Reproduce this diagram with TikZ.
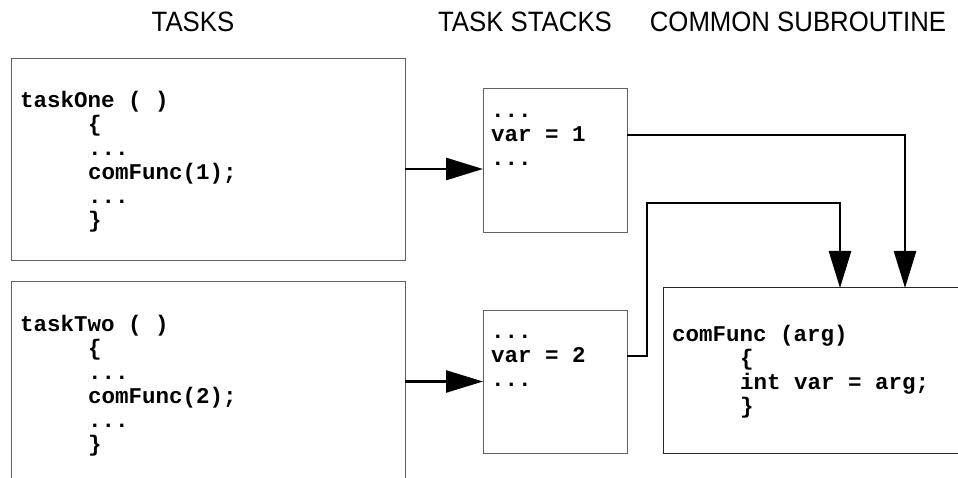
\documentclass[tikz,border=0pt]{standalone}
\usepackage{fontspec}
\setmainfont{Liberation Sans}
\newfontfamily\headfont{Liberation Sans}[FakeStretch=0.92]
\newfontfamily\codefont{Liberation Mono}
\usetikzlibrary{arrows.meta}
\begin{document}
\begin{tikzpicture}[x=1pt,y=-1pt,
  box/.style={draw=black!62, line width=1pt, anchor=north west, inner sep=0pt, outer sep=0pt},
  code/.style={anchor=base west, inner sep=0pt, font=\codefont\bfseries\fontsize{22.5}{24}\selectfont},
  head/.style={anchor=base, inner sep=0pt, font=\headfont\fontsize{28}{32}\selectfont},
  arr/.style={line width=2.7pt, -{Triangle[length=37pt,width=22pt]}}]
\useasboundingbox (0,0) rectangle (958,478);
\clip (0,0) rectangle (958,478);
\fill[white] (0,0) rectangle (958,478);

% headers
\node[head] (h1) at (193,32) {TASKS};
\node[head] (h2) at (525,32) {TASK STACKS};
\node[head] (h3) at (798,32) {COMMON SUBROUTINE};

% boxes
\node[box, minimum width=394pt, minimum height=202pt] (t1) at (11,59) {};
\node[box, minimum width=394pt, minimum height=230pt] (t2) at (11,282) {};
\node[box, minimum width=144pt, minimum height=144pt] (s1) at (483,89) {};
\node[box, minimum width=144pt, minimum height=143pt] (s2) at (483,310) {};
\node[box, draw=black!85, minimum width=330pt, minimum height=165pt] (c) at (663,288) {};

% task one code
\node[code] (t1l1) at (20,108) {taskOne ( )};
\node[code] (t1l2) at (88,132) {\{};
\node[code] (t1l3) at (88,156) {...};
\node[code] (t1l4) at (88,180) {comFunc(1);};
\node[code] (t1l5) at (88,204) {...};
\node[code] (t1l6) at (88,228) {\}};

% task two code
\node[code] (t2l1) at (20,331) {taskTwo ( )};
\node[code] (t2l2) at (88,355) {\{};
\node[code] (t2l3) at (88,379) {...};
\node[code] (t2l4) at (88,403) {comFunc(2);};
\node[code] (t2l5) at (88,427) {...};
\node[code] (t2l6) at (88,451) {\}};

% stacks
\node[code] (s1l1) at (491,118) {...};
\node[code] (s1l2) at (491,142) {var = 1};
\node[code] (s1l3) at (491,166) {...};
\node[code] (s2l1) at (491,338) {...};
\node[code] (s2l2) at (491,362) {var = 2};
\node[code] (s2l3) at (491,386) {...};

% common subroutine
\node[code] (cl1) at (672,341) {comFunc (arg)};
\node[code] (cl2) at (740,365) {\{};
\node[code] (cl3) at (740,389) {int var = arg;};
\node[code] (cl4) at (740,413) {\}};

% connectors
\coordinate (in1) at (905,288);
\coordinate (in2) at (840,288);
\coordinate (o1) at (627,135);
\coordinate (o2) at (627,356);
\coordinate (b2) at (647,203);

\draw[arr] (t1.east |- 0,169) -- (s1.west |- 0,169);
\draw[arr] (t2.east |- s2.west) -- (s2.west);
\draw[arr] (o1) -| (in1);
\draw[arr] (o2) -| (b2) -| (in2);
\end{tikzpicture}
\end{document}
